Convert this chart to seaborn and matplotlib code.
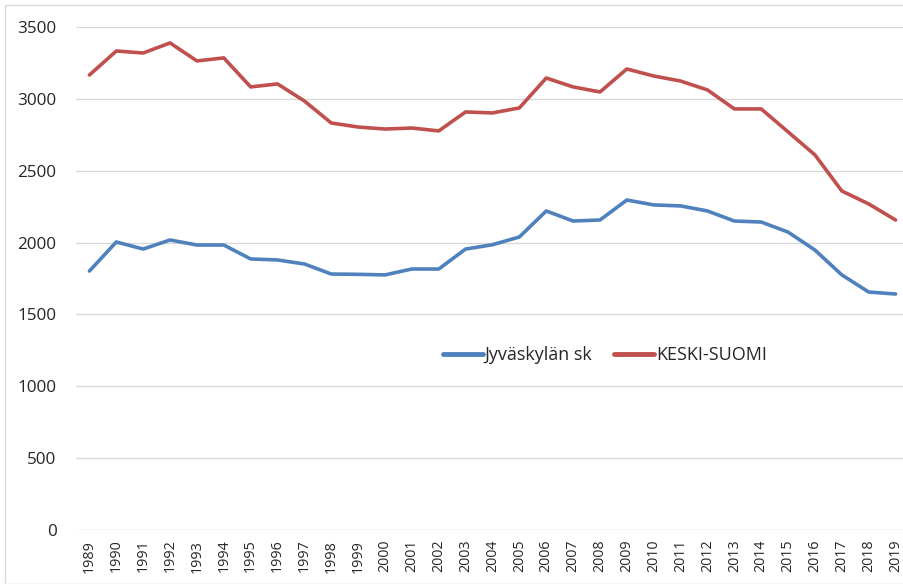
import matplotlib
matplotlib.use("Agg")
import matplotlib.pyplot as plt
import matplotlib.patches as patches
import numpy as np
import pandas as pd
import seaborn as sns

years = list(range(1989, 2020))
jyvaskylan_sk = [1802, 2004, 1955, 2018, 1983, 1983, 1886, 1879, 1851, 1781,
                 1779, 1775, 1816, 1816, 1955, 1985, 2039, 2220, 2150, 2157,
                 2296, 2262, 2255, 2220, 2150, 2143, 2073, 1948, 1775, 1656, 1642]
keski_suomi = [3166, 3333, 3319, 3389, 3264, 3285, 3083, 3104, 2985, 2832,
               2804, 2790, 2797, 2777, 2909, 2902, 2937, 3145, 3083, 3048,
               3208, 3159, 3124, 3062, 2930, 2930, 2770, 2610, 2359, 2269, 2157]
series_names = ["Jyväskylän sk", "KESKI-SUOMI"]
colors = ["#4F81BD", "#C0504D"]

df = pd.DataFrame({
    "idx": list(range(len(years))) * 2,
    "value": jyvaskylan_sk + keski_suomi,
    "series": [series_names[0]] * len(years) + [series_names[1]] * len(years),
})

sns.set_style("white")
plt.rcParams["font.family"] = ["Open Sans", "DejaVu Sans"]

fig = plt.figure(figsize=(9.04, 5.84), dpi=100)
ax = fig.add_axes([76 / 904, 1 - 530 / 584, 833 / 904, 503 / 584])

# chart border like the spreadsheet export
fig.patches.append(patches.Rectangle((5 / 904, 0), 1.0, 1 - 5 / 584, transform=fig.transFigure,
                                     fill=False, edgecolor="#d9d9d9", linewidth=1.0))

sns.lineplot(data=df, x="idx", y="value", hue="series", palette=colors,
             linewidth=2.6, ax=ax, legend=True)

ax.set_xlim(-0.5, len(years) - 0.5)
ax.set_ylim(0, 3500)
ax.set_yticks(np.arange(0, 3501, 500))
ax.set_xticks(range(len(years)))
ax.set_xticklabels([str(y) for y in years], rotation=90, fontsize=10.3)
ax.tick_params(axis="y", labelsize=12.3, length=0, pad=14)
ax.tick_params(axis="x", length=0, pad=7)
ax.yaxis.grid(True, color="#d9d9d9", linewidth=1.0)
ax.xaxis.grid(False)
for s in ax.spines.values():
    s.set_visible(False)
ax.set_xlabel("")
ax.set_ylabel("")

leg = ax.legend(loc="center", bbox_to_anchor=(0.635, 0.348), ncol=2,
                frameon=False, fontsize=13, handlelength=2.2, handletextpad=0.1,
                columnspacing=1.2)
for line in leg.get_lines():
    line.set_linewidth(3.5)

fig.savefig("out.png", dpi=100)
